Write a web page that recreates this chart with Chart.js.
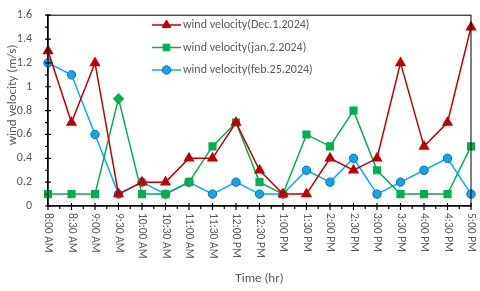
<!DOCTYPE html>
<html>
<head>
<meta charset="utf-8">
<script src="https://cdn.jsdelivr.net/npm/chart.js@4/dist/chart.umd.min.js"></script>
<style>
    body { margin: 0; background: #fff; }
    #wrap { width: 480px; height: 291px; position: relative; }
</style>
</head>
<body>
<div id="wrap"><canvas id="windChart"></canvas></div>
<script>
// 时间刻度
const timeLabels = ['8:00 AM', '8:30 AM', '9:00 AM', '9:30 AM', '10:00 AM', '10:30 AM',
    '11:00 AM', '11:30 AM', '12:00 PM', '12:30 PM', '1:00 PM', '1:30 PM', '2:00 PM',
    '2:30 PM', '3:00 PM', '3:30 PM', '4:00 PM', '4:30 PM', '5:00 PM'];

// 三天的风速 (m/s)
const decValues = [1.3, 0.7, 1.2, 0.1, 0.2, 0.2, 0.4, 0.4, 0.7, 0.3, 0.1, 0.1, 0.4, 0.3, 0.4, 1.2, 0.5, 0.7, 1.5];
const janValues = [0.1, 0.1, 0.1, 0.9, 0.1, 0.1, 0.2, 0.5, 0.7, 0.2, 0.1, 0.6, 0.5, 0.8, 0.3, 0.1, 0.1, 0.1, 0.5];
const febValues = [1.2, 1.1, 0.6, 0.1, 0.2, 0.1, 0.2, 0.1, 0.2, 0.1, 0.1, 0.3, 0.2, 0.4, 0.1, 0.2, 0.3, 0.4, 0.1];

const yMin = 0;
const yMax = 1.6;
const yStep = 0.2;
const yTitle = 'wind velocity (m/s)';

const FONT = "Carlito, Lato, 'Open Sans', sans-serif";
const TEXT_COLOR = '#595959';

// 自己画刻度、旋转的x标签、y标题、边框和图例
const excelLook = {
    id: 'excelLook',
    afterDraw(chart) {
        const { ctx, chartArea: area, scales: { x, y } } = chart;
        ctx.save();

        // 边框
        ctx.strokeStyle = '#000';
        ctx.lineWidth = 1;
        ctx.strokeRect(area.left, area.top, area.right - area.left, area.bottom - area.top);

        ctx.lineWidth = 1.2;
        ctx.beginPath();
        // x 轴刻度
        timeLabels.forEach((_, i) => {
            const px = x.getPixelForValue(i);
            ctx.moveTo(px, area.bottom - 3);
            ctx.lineTo(px, area.bottom + 4);
            if (i < timeLabels.length - 1) {
                const mid = (px + x.getPixelForValue(i + 1)) / 2;
                ctx.moveTo(mid, area.bottom);
                ctx.lineTo(mid, area.bottom + 3);
            }
        });
        // y 轴刻度
        for (let v = yMin; v <= yMax + 1e-9; v += yStep / 2) {
            const py = y.getPixelForValue(v);
            const major = Math.round(v * 10) % 2 === 0;
            ctx.moveTo(area.left - 3, py);
            ctx.lineTo(area.left + (major ? 3 : 0), py);
        }
        ctx.stroke();

        // x 标签 (顺时针旋转)
        ctx.fillStyle = TEXT_COLOR;
        ctx.font = '11.5px ' + FONT;
        ctx.textAlign = 'left';
        ctx.textBaseline = 'middle';
        timeLabels.forEach((label, i) => {
            const px = x.getPixelForValue(i);
            ctx.save();
            ctx.translate(px, area.bottom + 7);
            ctx.rotate(Math.PI / 2);
            ctx.fillText(label, 0, 0);
            ctx.restore();
        });

        // y 标题
        ctx.save();
        ctx.font = '13px ' + FONT;
        ctx.textAlign = 'center';
        ctx.translate(13, 95);
        ctx.rotate(-Math.PI / 2);
        ctx.fillText(yTitle, 0, 0);
        ctx.restore();

        // 图例
        const lx = 152, ly = 25, gap = 22.5;
        chart.data.datasets.forEach((ds, i) => {
            const cy = ly + i * gap;
            ctx.strokeStyle = ds.borderColor;
            ctx.lineWidth = 1.5;
            ctx.beginPath();
            ctx.moveTo(lx, cy);
            ctx.lineTo(lx + 29, cy);
            ctx.stroke();
            ctx.fillStyle = ds.pointBackgroundColor;
            ctx.strokeStyle = ds.pointBorderColor;
            ctx.lineWidth = 1;
            Chart.helpers.drawPoint(ctx, {
                pointStyle: ds.legendStyle,
                radius: ds.pointRadius,
                rotation: 0,
                borderWidth: 1
            }, lx + 14.5, cy);
            ctx.fillStyle = TEXT_COLOR;
            ctx.font = '12px ' + FONT;
            ctx.textAlign = 'left';
            ctx.fillText(ds.label, lx + 31, cy);
        });

        ctx.restore();
    }
};

new Chart(document.getElementById('windChart'), {
    type: 'line',
    data: {
        labels: timeLabels,
        datasets: [{
            label: 'wind velocity(Dec.1.2024)',
            data: decValues,
            borderColor: '#C00000',
            borderWidth: 1.5,
            pointStyle: 'triangle',
            legendStyle: 'triangle',
            pointRadius: 5,
            pointBackgroundColor: '#C00000',
            pointBorderColor: '#C00000',
            tension: 0
        }, {
            label: 'wind velocity(jan.2.2024)',
            data: janValues,
            borderColor: '#00B050',
            borderWidth: 1.5,
            pointStyle: ctx => (ctx.dataIndex === 3 ? 'rectRot' : 'rect'),
            legendStyle: 'rect',
            pointRadius: 4.7,
            pointBackgroundColor: '#00B050',
            pointBorderColor: '#00B050',
            tension: 0
        }, {
            label: 'wind velocity(feb.25.2024)',
            data: febValues,
            borderColor: '#00B0F0',
            borderWidth: 1.5,
            pointStyle: 'circle',
            legendStyle: 'circle',
            pointRadius: 4.2,
            pointBackgroundColor: '#12A5EC',
            pointBorderColor: '#0070C0',
            pointBorderWidth: 1,
            tension: 0
        }]
    },
    options: {
        responsive: true,
        maintainAspectRatio: false,
        animation: false,
        layout: { padding: { left: 0, right: 9, top: 7, bottom: 0 } },
        plugins: {
            legend: { display: false },
            tooltip: { enabled: false }
        },
        scales: {
            x: {
                type: 'category',
                offset: false,
                grid: { display: false },
                border: { display: true, color: '#000', width: 1.5 },
                ticks: { display: false },
                title: {
                    display: true,
                    text: 'Time (hr)',
                    color: TEXT_COLOR,
                    font: { family: FONT, size: 13 },
                    padding: { top: 0, bottom: 4 }
                },
                afterFit: scale => { scale.height = 85; }
            },
            y: {
                min: yMin,
                max: yMax,
                grid: { display: false },
                border: { display: true, color: '#000', width: 1.5 },
                ticks: {
                    stepSize: yStep,
                    padding: 8,
                    color: TEXT_COLOR,
                    font: { family: FONT, size: 12 },
                    callback: v => String(+v.toFixed(1))
                },
                afterFit: scale => { scale.width = 48; }
            }
        }
    },
    plugins: [excelLook]
});
</script>
</body>
</html>
